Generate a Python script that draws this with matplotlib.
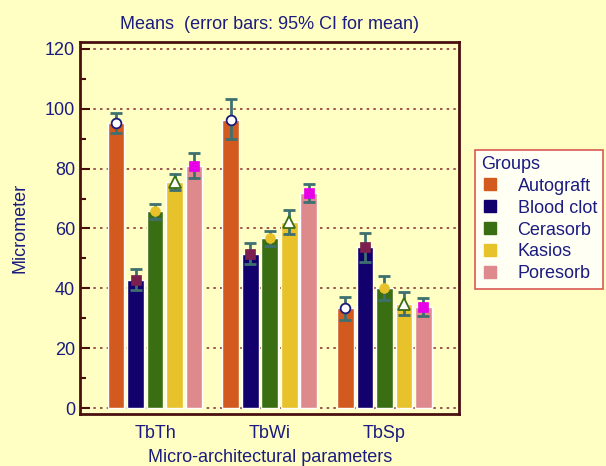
import matplotlib
matplotlib.use("Agg")
import matplotlib.pyplot as plt
import numpy as np
from matplotlib.lines import Line2D

# ── Data ────────────────────────────────────────────────────────────────────
PARAMS = ["TbTh", "TbWi", "TbSp"]
GROUPS = ["Autograft", "Blood clot", "Cerasorb", "Kasios", "Poresorb"]

MEANS = {
    "Autograft":  [95.2, 96.4, 33.4],
    "Blood clot": [42.9, 51.6, 53.9],
    "Cerasorb":   [65.8, 56.7, 40.2],
    "Kasios":     [75.5, 62.2, 34.9],
    "Poresorb":   [80.8, 71.8, 33.8],
}
CI_LOW = {
    "Autograft":  [91.9, 89.9, 29.5],
    "Blood clot": [39.4, 48.0, 48.8],
    "Cerasorb":   [63.3, 54.0, 36.2],
    "Kasios":     [72.9, 58.2, 31.1],
    "Poresorb":   [76.7, 69.0, 30.9],
}
CI_HIGH = {
    "Autograft":  [98.6, 103.2, 37.2],
    "Blood clot": [46.4, 55.3, 58.6],
    "Cerasorb":   [68.3, 59.1, 44.1],
    "Kasios":     [78.3, 66.2, 38.8],
    "Poresorb":   [85.1, 75.0, 36.7],
}

# ── Styling ─────────────────────────────────────────────────────────────────
BG = "#FFFFC4"
TEXT = "#1B1B80"
SPINE = "#4A1010"
ERR = "#3E7070"
BAR_COLORS = {
    "Autograft": "#D35A1E",
    "Blood clot": "#12006C",
    "Cerasorb": "#3A6E12",
    "Kasios": "#E8C22A",
    "Poresorb": "#DE898C",
}
MARKERS = {
    "Autograft":  dict(marker="o", mfc="white", mec="#1B1B78", ms=7, mew=1.3),
    "Blood clot": dict(marker="s", mfc="#7B1F4F", mec="#7B1F4F", ms=7, mew=0.5),
    "Cerasorb":   dict(marker="o", mfc="#E8C22A", mec="#E8C22A", ms=7, mew=0.5),
    "Kasios":     dict(marker="^", mfc="white", mec="#3A6E12", ms=9, mew=1.3),
    "Poresorb":   dict(marker="s", mfc="#E800E8", mec="#E800E8", ms=7, mew=0.5),
}

FS = 13
plt.rcParams["font.family"] = ["Liberation Sans", "DejaVu Sans"]

fig = plt.figure(figsize=(6.06, 4.66), dpi=100, facecolor=BG)
ax = fig.add_axes([0.1328, 0.1116, 0.6246, 0.7989])
ax.set_facecolor(BG)

x = np.arange(len(PARAMS))
step = 0.17
width = 0.145

for gi, g in enumerate(GROUPS):
    pos = x + (gi - 2) * step
    means = np.array(MEANS[g])
    lo = means - np.array(CI_LOW[g])
    hi = np.array(CI_HIGH[g]) - means
    ax.bar(pos, means, width=width, color=BAR_COLORS[g], edgecolor="white",
           linewidth=1, zorder=3)
    ax.errorbar(pos, means, yerr=[lo, hi], fmt="none", ecolor=ERR,
                elinewidth=2, capsize=4, capthick=2, zorder=4)
    ax.plot(pos, means, linestyle="none", zorder=5, **MARKERS[g])

# dotted grid lines, drawn behind the bars
for yv in range(0, 121, 20):
    ax.axhline(yv, color="#8B3A3A", linestyle=(0, (1.5, 2.5)), linewidth=1.2, zorder=1)

ax.set_xlim(-0.65, 2.65)
ax.set_ylim(-2, 122.4)
ax.set_yticks(range(0, 121, 20))
ax.set_yticks(range(10, 121, 20), minor=True)
ax.set_xticks(x)
ax.set_xticklabels(PARAMS)
ax.tick_params(axis="y", which="major", direction="in", length=7, width=1.5,
               color=SPINE, labelcolor=TEXT, labelsize=FS, pad=4)
ax.tick_params(axis="y", which="minor", direction="in", length=4, width=1.5,
               color=SPINE)
ax.tick_params(axis="x", length=0, labelcolor=TEXT, labelsize=FS, pad=8)

for s in ax.spines.values():
    s.set_color(SPINE)
    s.set_linewidth(2)

ax.set_title("Means  (error bars: 95% CI for mean)", color=TEXT, fontsize=FS, pad=9)
ax.set_xlabel("Micro-architectural parameters", color=TEXT, fontsize=FS, labelpad=5)
ax.set_ylabel("Micrometer", color=TEXT, fontsize=FS, labelpad=12)

handles = [Line2D([], [], marker="s", linestyle="none", ms=9,
                  mfc=BAR_COLORS[g], mec=BAR_COLORS[g]) for g in GROUPS]
leg = fig.legend(handles, GROUPS, title="Groups", loc="upper left",
                 bbox_to_anchor=(0.784, 0.679), frameon=True, fancybox=False,
                 edgecolor="#D03030", facecolor="white", fontsize=FS,
                 title_fontsize=FS, handlelength=0.9, handletextpad=1.1,
                 labelspacing=0.27, borderpad=0.35, borderaxespad=0,
                 alignment="left")
leg.get_frame().set_linewidth(1.2)
for t in leg.get_texts():
    t.set_color(TEXT)
leg.get_title().set_color(TEXT)

fig.savefig("out.png", dpi=100, facecolor=BG)
